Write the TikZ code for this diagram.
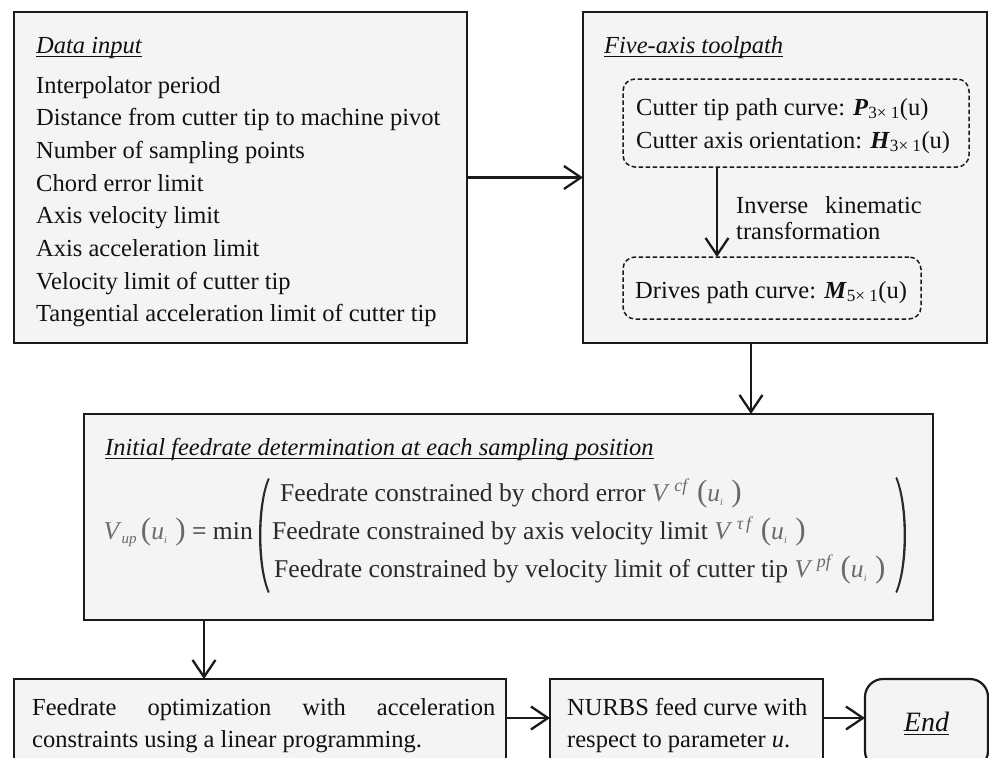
\documentclass[tikz,border=0pt]{standalone}
\usepackage{fontspec}
\setmainfont{Liberation Serif}
\usetikzlibrary{arrows.meta,calc}
\definecolor{boxfill}{HTML}{F4F4F4}
\definecolor{edge}{HTML}{1A1A1A}
\definecolor{mathgray}{HTML}{6A6A6A}
\definecolor{txtc}{HTML}{111111}
\definecolor{ftxtc}{HTML}{2A2A2A}
\newcommand\myul[1]{\sbox0{#1}\rlap{\rule[-4.4pt]{\wd0}{1.8pt}}\usebox0}
\newcommand\vecP[2]{\textbf{\textit{#1}}\textsubscript{#2× 1}(u)}
\newcommand\mV[1]{{\color{mathgray}\textit{V}\,\textsuperscript{\itshape #1}\kern5pt}}
\newcommand\ui{{\color{mathgray}\,{\fontsize{31}{31}\selectfont(}\textit{u}\raisebox{-4pt}{\fontsize{10}{10}\selectfont\itshape i}\,\,{\fontsize{31}{31}\selectfont)}}}
\begin{document}
\begin{tikzpicture}[x=1pt,y=-1pt,
  box/.style={draw=edge, line width=2.2pt, fill=boxfill, rectangle, anchor=north west, inner sep=0pt, outer sep=0pt},
  dbox/.style={draw=edge, line width=1.5pt, dash pattern=on 4.5pt off 2.5pt, rounded corners=12pt, rectangle, anchor=north west, inner sep=0pt, outer sep=0pt},
  txt/.style={inner sep=0pt, anchor=base west, font=\fontsize{24.5}{30}\selectfont, text=txtc},
  ftxt/.style={txt, font=\fontsize{25.6}{30}\selectfont, text=ftxtc},
  arr/.style={draw=edge, line width=2.3pt, -{Straight Barb[length=17pt,width=23pt,line width=2.3pt]}},
]
\useasboundingbox (0,0) rectangle (989,758);
\clip (0,0) rectangle (989,758);

% boxes
\node[box, minimum width=453, minimum height=331] (data) at (14,12) {};
\node[box, minimum width=404, minimum height=331] (five) at (583,12) {};
\node[dbox, minimum width=346, minimum height=88] (pbox) at (623,79) {};
\node[dbox, minimum width=298, minimum height=62] (mbox) at (623,257) {};
\node[box, minimum width=849, minimum height=206] (init) at (84,414) {};
\node[box, minimum width=492, minimum height=90] (opt) at (14,679) {};
\node[box, minimum width=273, minimum height=90] (nurbs) at (550,679) {};
\node[box, rounded corners=18pt, minimum width=123, minimum height=90] (end) at (865,679) {};

% data input
\node[txt] (t1) at (36,53) {\myul{\textit{Data input}}};
\node[txt] (d1) at (36,93) {Interpolator period};
\node[txt] (d2) at (36,125.7) {Distance from cutter tip to machine pivot};
\node[txt] (d3) at (36,158.4) {Number of sampling points};
\node[txt] (d4) at (36,191.1) {Chord error limit};
\node[txt] (d5) at (36,223.8) {Axis velocity limit};
\node[txt] (d6) at (36,256.5) {Axis acceleration limit};
\node[txt] (d7) at (36,289.2) {Velocity limit of cutter tip};
\node[txt] (d8) at (36,321.9) {Tangential acceleration limit of cutter tip};

% five-axis toolpath
\node[txt] (t2) at (604,53) {\myul{\textit{Five-axis toolpath}}};
\node[txt] (p1) at (636,115) {Cutter tip path curve: \vecP{P}{3}};
\node[txt] (p2) at (636,148) {Cutter axis orientation: \vecP{H}{3}};
\node[txt] (m1) at (635,298) {Drives path curve: \vecP{M}{5}};
\node[txt] (k1) at (736,213) {Inverse};
\node[txt, anchor=base east] (k2) at (922,213) {kinematic};
\node[txt] (k3) at (736,239) {transformation};

% initial feedrate
\node[txt] (t3) at (105,455) {\myul{\textit{Initial feedrate determination at each sampling position}}};
\node[ftxt, anchor=base east] (vup) at (253,539) {{\color{mathgray}\textit{V}\raisebox{-4pt}{\fontsize{15}{15}\selectfont\itshape up}}\ui{} = min};
\node[ftxt] (f1) at (280,501) {Feedrate constrained by chord error \mV{cf}\ui};
\node[ftxt] (f2) at (272,539) {Feedrate constrained by axis velocity limit \mV{τ\,f}\ui};
\node[ftxt] (f3) at (274,577) {Feedrate constrained by velocity limit of cutter tip \mV{pf}\ui};
\fill[ftxtc] (268,478) .. controls (256,505) and (256,566) .. (268,593)
  -- (269.6,592) .. controls (258.6,566) and (258.6,505) .. (269.6,479) -- cycle;
\fill[ftxtc] (897,477) .. controls (909,505) and (909,566) .. (897,593)
  -- (895.4,592) .. controls (906.4,566) and (906.4,505) .. (895.4,478) -- cycle;

% bottom row
\node[txt] (o1) at (32,715) {\makebox[463pt][s]{Feedrate\hfill optimization\hfill with\hfill acceleration}};
\node[txt] (o2) at (32,747) {constraints using a linear programming.};
\node[txt] (n1) at (567,715) {NURBS feed curve with};
\node[txt] (n2) at (567,747) {respect to parameter \textit{u}.};
\node[txt, anchor=base, font=\fontsize{28}{30}\selectfont] (e1) at (926.5,731) {\myul{\textit{End}}};

% connectors
\coordinate (xk) at (717,0);
\coordinate (xf) at (751,0);
\coordinate (xo) at (204,0);
\coordinate (yb) at (0,718);
\draw[arr] (data.east) -- (five.west);
\draw[arr] (pbox.south -| xk) -- (mbox.north -| xk);
\draw[arr] (five.south -| xf) -- (init.north -| xf);
\draw[arr] (init.south -| xo) -- (opt.north -| xo);
\draw[arr] (opt.east |- yb) -- (nurbs.west |- yb);
\draw[arr] (nurbs.east |- yb) -- (end.west |- yb);
\end{tikzpicture}
\end{document}
